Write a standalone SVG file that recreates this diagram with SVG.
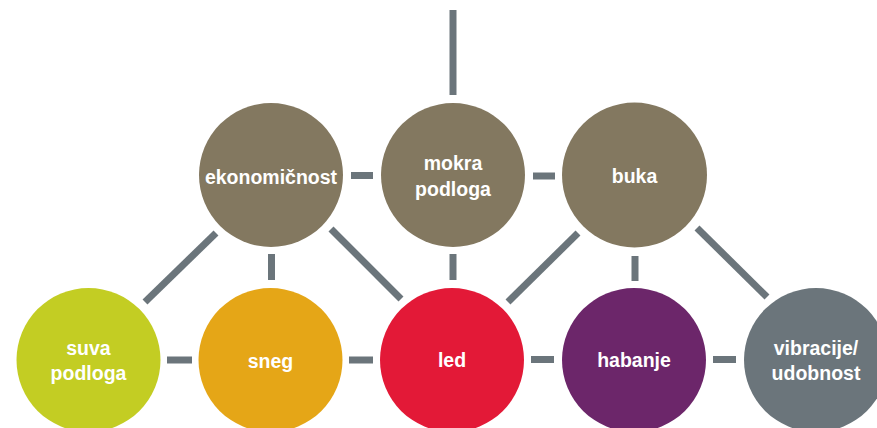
<svg xmlns="http://www.w3.org/2000/svg" width="877" height="428" viewBox="0 0 877 428">
<style>
.c{stroke:#6b757b;stroke-width:7;fill:none}
.t{font-family:"Liberation Sans",Arial,sans-serif;font-weight:bold;font-size:19.5px;fill:#ffffff;text-anchor:middle}
.br{fill:#837860}
</style>
<rect width="877" height="428" fill="#ffffff"/>
<g id="connectors">
<line class="c" x1="453" y1="10" x2="453" y2="95"/>
<line class="c" x1="351" y1="175.5" x2="373" y2="175.5"/>
<line class="c" x1="533" y1="176" x2="555" y2="176"/>
<line class="c" x1="167" y1="360" x2="192" y2="360"/>
<line class="c" x1="349" y1="360" x2="373" y2="360"/>
<line class="c" x1="531" y1="359.5" x2="554" y2="359.5"/>
<line class="c" x1="713" y1="359.5" x2="736" y2="359.5"/>
<line class="c" x1="271.5" y1="254" x2="271.5" y2="280"/>
<line class="c" x1="453" y1="254" x2="453" y2="280"/>
<line class="c" x1="635" y1="256" x2="635" y2="281"/>
<line class="c" x1="216" y1="233" x2="145" y2="302"/>
<line class="c" x1="331" y1="229" x2="401" y2="299"/>
<line class="c" x1="578" y1="233" x2="508" y2="302"/>
<line class="c" x1="697" y1="228" x2="767" y2="297"/>
</g>
<g id="ekonomicnost">
<circle class="br" cx="271" cy="175" r="72"/>
<text class="t" x="271" y="184">ekonomičnost</text>
</g>
<g id="mokra-podloga">
<circle class="br" cx="453" cy="175" r="72"/>
<text class="t" x="453" y="170">mokra</text>
<text class="t" x="453" y="196">podloga</text>
</g>
<g id="buka">
<circle class="br" cx="634.5" cy="175" r="72.5"/>
<text class="t" x="634.5" y="183">buka</text>
</g>
<g id="suva-podloga">
<circle fill="#c3cd23" cx="88.5" cy="360" r="72"/>
<text class="t" x="88.5" y="355">suva</text>
<text class="t" x="88.5" y="380">podloga</text>
</g>
<g id="sneg">
<circle fill="#e5a617" cx="270.5" cy="360" r="72"/>
<text class="t" x="270.5" y="368">sneg</text>
</g>
<g id="led">
<circle fill="#e31937" cx="452" cy="360" r="72"/>
<text class="t" x="452" y="367">led</text>
</g>
<g id="habanje">
<circle fill="#6c266a" cx="634" cy="360" r="72"/>
<text class="t" x="634" y="367">habanje</text>
</g>
<g id="vibracije-udobnost">
<circle fill="#6b757b" cx="816" cy="360" r="72"/>
<text class="t" x="816" y="355">vibracije/</text>
<text class="t" x="816" y="380">udobnost</text>
</g>
</svg>
